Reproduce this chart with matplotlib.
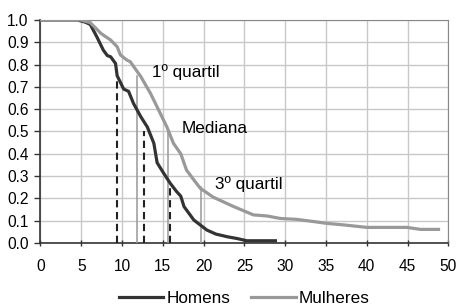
import matplotlib
matplotlib.use('Agg')
import matplotlib.pyplot as plt
import numpy as np

plt.rcParams['font.family'] = ['Liberation Sans', 'DejaVu Sans']

# survival curves
x_hom = [0, 4.5, 5.5, 6.1, 6.9, 7.7, 8.2, 8.6, 9.2, 9.4, 10.2, 10.8, 11.4, 12.3,
         13.1, 13.9, 14.3, 15.1, 15.9, 16.7, 17.2, 17.6, 18.8, 20.4, 21.5, 22.9,
         24.1, 25.3, 28.8]
y_hom = [1.0, 1.0, 0.99, 0.98, 0.925, 0.865, 0.84, 0.835, 0.805, 0.75, 0.69, 0.68,
         0.626, 0.566, 0.52, 0.447, 0.36, 0.313, 0.268, 0.23, 0.21, 0.163, 0.103,
         0.058, 0.04, 0.028, 0.02, 0.01, 0.01]

x_mul = [0, 4.9, 6.1, 7.4, 8.6, 9.4, 9.8, 10.6, 11.0, 12.3, 13.5, 14.3, 15.5, 16.3,
         17.2, 17.9, 18.8, 19.6, 21.2, 23.7, 26.1, 27.8, 29.4, 31.4, 33.5, 35.1,
         37.2, 40.0, 44.9, 46.6, 48.8]
y_mul = [1.0, 1.0, 0.988, 0.94, 0.91, 0.88, 0.843, 0.82, 0.813, 0.746, 0.67, 0.61,
         0.52, 0.447, 0.40, 0.327, 0.283, 0.245, 0.205, 0.163, 0.126, 0.121, 0.11,
         0.106, 0.096, 0.088, 0.081, 0.07, 0.07, 0.061, 0.061]

# quartile markers
q_levels = [0.75, 0.5, 0.25]
q_hom = [9.35, 12.7, 15.9]
q_mul = [11.8, 15.65, 19.7]
q_labels = ['1º quartil', 'Mediana', '3º quartil']
q_label_x = [13.7, 17.3, 21.4]

dark = '#333333'
grey = '#999999'
fs_tick = 11.2
fs_txt = 12.3

fig = plt.figure(figsize=(4.6, 3.07), dpi=100)
ax = fig.add_axes([0.088, 0.2085, 0.8866, 0.7265])

for xv, yv in zip(q_hom, q_levels):
    ax.plot([xv, xv], [0, yv], color='#222222', lw=1.5, ls=(0, (3.5, 2.2)), zorder=3)
for xv, yv in zip(q_mul, q_levels):
    ax.plot([xv, xv], [0, yv], color=grey, lw=1.1, zorder=3)

ax.plot(x_hom, y_hom, color=dark, lw=2.3, label='Homens', zorder=4)
ax.plot(x_mul, y_mul, color=grey, lw=2.3, label='Mulheres', zorder=4)

for lab, xl, yl in zip(q_labels, q_label_x, q_levels):
    ax.text(xl, yl + 0.015, lab, fontsize=fs_txt, va='center', ha='left', zorder=5)

ax.set_xlim(0, 50)
ax.set_ylim(0, 1.0)
ax.set_xticks(np.arange(0, 51, 5))
ax.set_yticks(np.arange(0, 1.01, 0.1))
ax.set_yticklabels(['%0.1f' % v for v in np.arange(0, 1.01, 0.1)])
ax.grid(True, color='#c8c8c8', lw=1.0)
ax.set_axisbelow(True)
ax.tick_params(axis='y', labelsize=fs_tick, length=4.5, width=1, color=dark, pad=4)
ax.tick_params(axis='x', labelsize=fs_tick, length=4.5, width=1, color=dark,
               direction='inout', pad=9)
ax.spines['left'].set_color(dark)
ax.spines['bottom'].set_color(dark)
ax.spines['left'].set_linewidth(1.2)
ax.spines['bottom'].set_linewidth(1.2)
ax.spines['top'].set_color('#888888')
ax.spines['right'].set_color('#888888')

ax.legend(loc='upper center', bbox_to_anchor=(0.5, -0.185), ncol=2, frameon=False,
          fontsize=fs_txt, handlelength=2.6, handletextpad=0.2, columnspacing=1.2,
          borderaxespad=0.0)

fig.savefig('out.png', dpi=100)
